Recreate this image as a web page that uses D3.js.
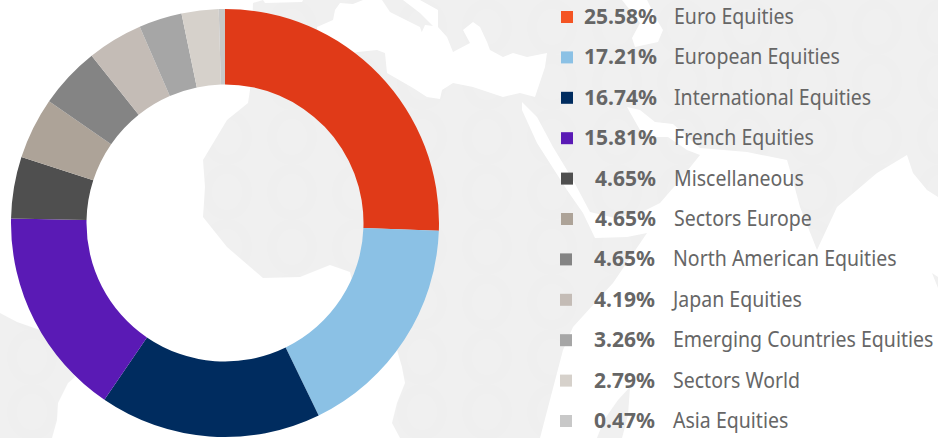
<!DOCTYPE html>
<html><head><meta charset="utf-8">
<script src="https://cdn.jsdelivr.net/npm/d3@7/dist/d3.min.js"></script>
<style>html,body{margin:0;padding:0;background:#fff;overflow:hidden}svg{display:block}
text{font-family:"Noto Sans",sans-serif;font-size:21px;fill:#666}</style></head><body>
<svg id="c" width="938" height="438"></svg>
<script>
const categories=["Euro Equities","European Equities","International Equities","French Equities","Miscellaneous","Sectors Europe","North American Equities","Japan Equities","Emerging Countries Equities","Sectors World","Asia Equities"];
const values=[25.58,17.21,16.74,15.81,4.65,4.65,4.65,4.19,3.26,2.79,0.47];
const sliceColors=["#e03a18","#8bc1e5","#002c5f","#5a1ab5","#4f4f4f","#ada398","#848484","#c4bcb6","#a6a6a6","#d6d1cb","#c8c8c8"];
const legendColors=["#f45423","#8bc1e5","#002c5f","#5a1ab5","#4f4f4f","#ada398","#848484","#c4bcb6","#a6a6a6","#d6d1cb","#c8c8c8"];

// Decorative world-map backdrop
const landOutlines=[
 "M253,3L263,0L938,0L938,438L400,438L392,423L397,403L405,383L402,367L397,350L352,280L350,272L330,265L300,277L263,278L227,247L203,217L205,187L203,160L227,120L248,103L250,90Z",
 "M0,313L17,322L40,330L75,377L68,383L58,403L57,420L52,438L0,438Z"
];
const seaOutlines=[
 "M317,27L333,20L335,10L340,3L353,4L363,0L382,0L390,12L402,18L420,27L422,33L417,43L425,25L433,26L420,13L403,0L420,0L438,10L438,27L447,37L453,52L470,43L463,30L473,22L480,27L487,42L490,50L503,57L513,53L527,57L547,53L545,67L535,97L520,93L503,97L473,87L453,83L442,90L440,99L427,97L413,88L387,73L385,53L377,50L358,52L320,60Z",
 "M522,102L537,117L553,147L573,180L590,212L615,218L640,213L660,203L680,180L700,155L687,150L668,137L653,137L640,130L627,107L640,110L655,122L673,124L685,135L700,148L747,152L787,160L792,177L800,207L817,250L837,207L877,173L907,155L913,173L927,190L938,197L938,438L540,438L563,350L573,327L613,283L647,233L627,237L595,238L583,213L567,190L537,143L522,110Z",
 "M263,0L303,0L302,2L265,3Z",
 "M622,0L647,0L657,20L663,30L658,42L635,47L632,38L640,23Z"
];
const islandOutlines=[
 "M630,387L618,400L604,420L597,438L622,438L628,415Z",
 "M932,273L938,277L938,288Z"
];

const svg=d3.select("#c");
const pat=svg.append("defs").append("pattern").attr("id","loops").attr("patternUnits","userSpaceOnUse")
 .attr("width",65).attr("height",55);
pat.append("rect").attr("width",65).attr("height",55).attr("fill","#f0f0f0");
pat.append("ellipse").attr("cx",32).attr("cy",27).attr("rx",20).attr("ry",23)
 .attr("fill","none").attr("stroke","#efefef").attr("stroke-width",9);

const map=svg.append("g");
map.selectAll("path.land").data(landOutlines).join("path").attr("class","land").attr("d",d=>d).attr("fill","url(#loops)");
map.selectAll("path.sea").data(seaOutlines).join("path").attr("class","sea").attr("d",d=>d).attr("fill","#fff");
map.selectAll("path.island").data(islandOutlines).join("path").attr("class","island").attr("d",d=>d).attr("fill","#f0f0f0");

const pie=d3.pie().sort(null)(values);
const arc=d3.arc().innerRadius(138.5).outerRadius(214);
svg.append("g").attr("transform","translate(225,223)")
 .selectAll("path").data(pie).join("path").attr("d",arc).attr("fill",(d,i)=>sliceColors[i]);

const y=d3.scalePoint().domain(categories).range([17,421]);
const row=svg.append("g").selectAll("g").data(categories).join("g")
 .attr("transform",(d,i)=>`translate(${i<6?0:-1},${y(d)})`);
row.append("rect").attr("x",561).attr("y",-6).attr("width",12).attr("height",12).attr("fill",(d,i)=>legendColors[i]);
row.append("text").attr("x",(d,i)=>i<4?657:656).attr("y",7).attr("text-anchor","end")
 .style("font-weight",700).text((d,i)=>values[i].toFixed(2)+"%");
row.append("text").attr("transform","translate(674,7) scale(0.93,1)").text(d=>d);
</script></body></html>
